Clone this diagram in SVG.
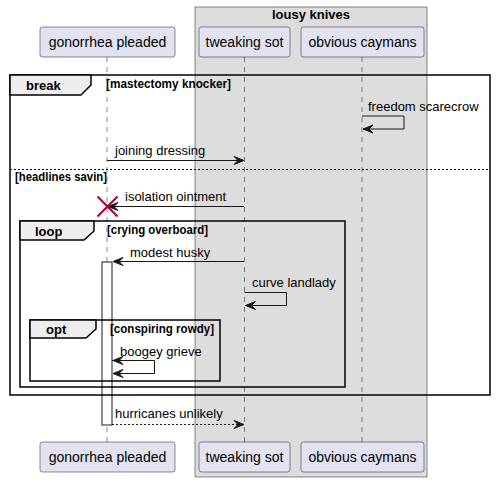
<svg xmlns="http://www.w3.org/2000/svg" width="496" height="483" viewBox="0 0 496 483">
<style>
.part{fill:#E2E2F0;stroke:#181818;stroke-width:0.5}
.ptxt{font-family:"Liberation Sans",Arial,sans-serif;font-size:14px;fill:#000}
.life{stroke:#181818;stroke-width:0.5;stroke-dasharray:5,5;fill:none}
.msg{font-family:"Liberation Sans",Arial,sans-serif;font-size:13px;fill:#000}
.line{stroke:#181818;stroke-width:1;fill:none}
.dash{stroke:#181818;stroke-width:1;fill:none;stroke-dasharray:2,2}
.head{fill:#181818;stroke:#181818;stroke-width:1}
.frame{fill:none;stroke:#000;stroke-width:1.5}
.tab{fill:#EEEEEE;stroke:#000;stroke-width:1.5}
.ftitle{font-family:"Liberation Sans",Arial,sans-serif;font-size:13px;font-weight:bold;fill:#000}
.cond{font-family:"Liberation Sans",Arial,sans-serif;font-size:12px;font-weight:bold;fill:#000}
.sep{stroke:#000;stroke-width:1;stroke-dasharray:2,2;fill:none}
</style>
<g id="box-lousy-knives">
<rect x="195" y="7" width="232" height="470" fill="#DDDDDD" stroke="#181818" stroke-width="0.5"/>
<text x="311" y="19" text-anchor="middle" class="ftitle">lousy knives</text>
</g>
<g id="lifelines">
<line x1="107" y1="57" x2="107" y2="442" class="life"/>
<line x1="244.5" y1="57" x2="244.5" y2="442" class="life"/>
<line x1="362" y1="57" x2="362" y2="442" class="life"/>
</g>
<g id="gonorrhea-pleaded">
<rect x="40" y="27" width="135" height="30" rx="2.5" class="part"/>
<text x="107.5" y="47" text-anchor="middle" class="ptxt">gonorrhea pleaded</text>
<rect x="40" y="442" width="135" height="30" rx="2.5" class="part"/>
<text x="107.5" y="462" text-anchor="middle" class="ptxt">gonorrhea pleaded</text>
</g>
<g id="tweaking-sot">
<rect x="199" y="27" width="91" height="30" rx="2.5" class="part"/>
<text x="244.5" y="47" text-anchor="middle" class="ptxt">tweaking sot</text>
<rect x="199" y="442" width="91" height="30" rx="2.5" class="part"/>
<text x="244.5" y="462" text-anchor="middle" class="ptxt">tweaking sot</text>
</g>
<g id="obvious-caymans">
<rect x="301" y="27" width="123" height="30" rx="2.5" class="part"/>
<text x="362.5" y="47" text-anchor="middle" class="ptxt">obvious caymans</text>
<rect x="301" y="442" width="123" height="30" rx="2.5" class="part"/>
<text x="362.5" y="462" text-anchor="middle" class="ptxt">obvious caymans</text>
</g>
<g id="activation">
<rect x="102" y="262" width="10" height="163" fill="#FFFFFF" stroke="#181818" stroke-width="1"/>
</g>
<g id="frame-break">
<rect x="10" y="75" width="480" height="320" class="frame"/>
<path d="M10,75 L91,75 L91,85 L81,95 L10,95 Z" class="tab"/>
<text x="26" y="90" class="ftitle">break</text>
<text x="106" y="88" class="cond" textLength="125" lengthAdjust="spacingAndGlyphs">[mastectomy knocker]</text>
<line x1="10" y1="169.5" x2="490" y2="169.5" class="sep"/>
<text x="15" y="181" class="cond" textLength="92" lengthAdjust="spacingAndGlyphs">[headlines savin]</text>
</g>
<g id="frame-loop">
<rect x="20" y="221" width="325" height="166" class="frame"/>
<path d="M20,221 L94,221 L94,231 L84,240 L20,240 Z" class="tab"/>
<text x="35" y="236" class="ftitle">loop</text>
<text x="107" y="234" class="cond" textLength="101" lengthAdjust="spacingAndGlyphs">[crying overboard]</text>
</g>
<g id="frame-opt">
<rect x="30" y="320" width="190" height="61" class="frame"/>
<path d="M30,320 L96,320 L96,329 L86,338 L30,338 Z" class="tab"/>
<text x="46" y="334" class="ftitle">opt</text>
<text x="110" y="333" class="cond" textLength="104" lengthAdjust="spacingAndGlyphs">[conspiring rowdy]</text>
</g>
<g id="connectors">
<polyline points="362,116 404,116 404,129 363,129" class="line"/>
<polygon points="363,129 373,125 369,129 373,133" class="head"/>
<text x="368" y="111" class="msg">freedom scarecrow</text>
<line x1="107" y1="160.5" x2="243" y2="160.5" class="line"/>
<polygon points="244,160.5 234,156.5 238,160.5 234,164.5" class="head"/>
<text x="115" y="155" class="msg">joining dressing</text>
<line x1="244" y1="206.5" x2="109" y2="206.5" class="line"/>
<polygon points="108,206.5 118,202.5 114,206.5 118,210.5" class="head"/>
<text x="125" y="201" class="msg">isolation ointment</text>
<g stroke="#A80036" stroke-width="2">
<line x1="97.5" y1="196.5" x2="117.5" y2="216.5"/>
<line x1="117.5" y1="196.5" x2="97.5" y2="216.5"/>
</g>
<line x1="244" y1="261.5" x2="114" y2="261.5" class="line"/>
<polygon points="113,261.5 123,257.5 119,261.5 123,265.5" class="head"/>
<text x="130" y="257" class="msg">modest husky</text>
<polyline points="244.5,292.5 286.5,292.5 286.5,305.5 246,305.5" class="line"/>
<polygon points="245.5,305.5 255.5,301.5 251.5,305.5 255.5,309.5" class="head"/>
<text x="252" y="287" class="msg">curve landlady</text>
<polyline points="112,360.5 154.5,360.5 154.5,373.5 114,373.5" class="line"/>
<polygon points="113,360.5 123,356.5 119,360.5 123,364.5" class="head"/>
<polygon points="113,373.5 123,369.5 119,373.5 123,377.5" class="head"/>
<text x="120" y="356" class="msg">boogey grieve</text>
<line x1="112" y1="424.5" x2="242" y2="424.5" class="dash"/>
<polygon points="244,424.5 234,420.5 238,424.5 234,428.5" class="head"/>
<text x="115" y="418" class="msg">hurricanes unlikely</text>
</g>
</svg>
